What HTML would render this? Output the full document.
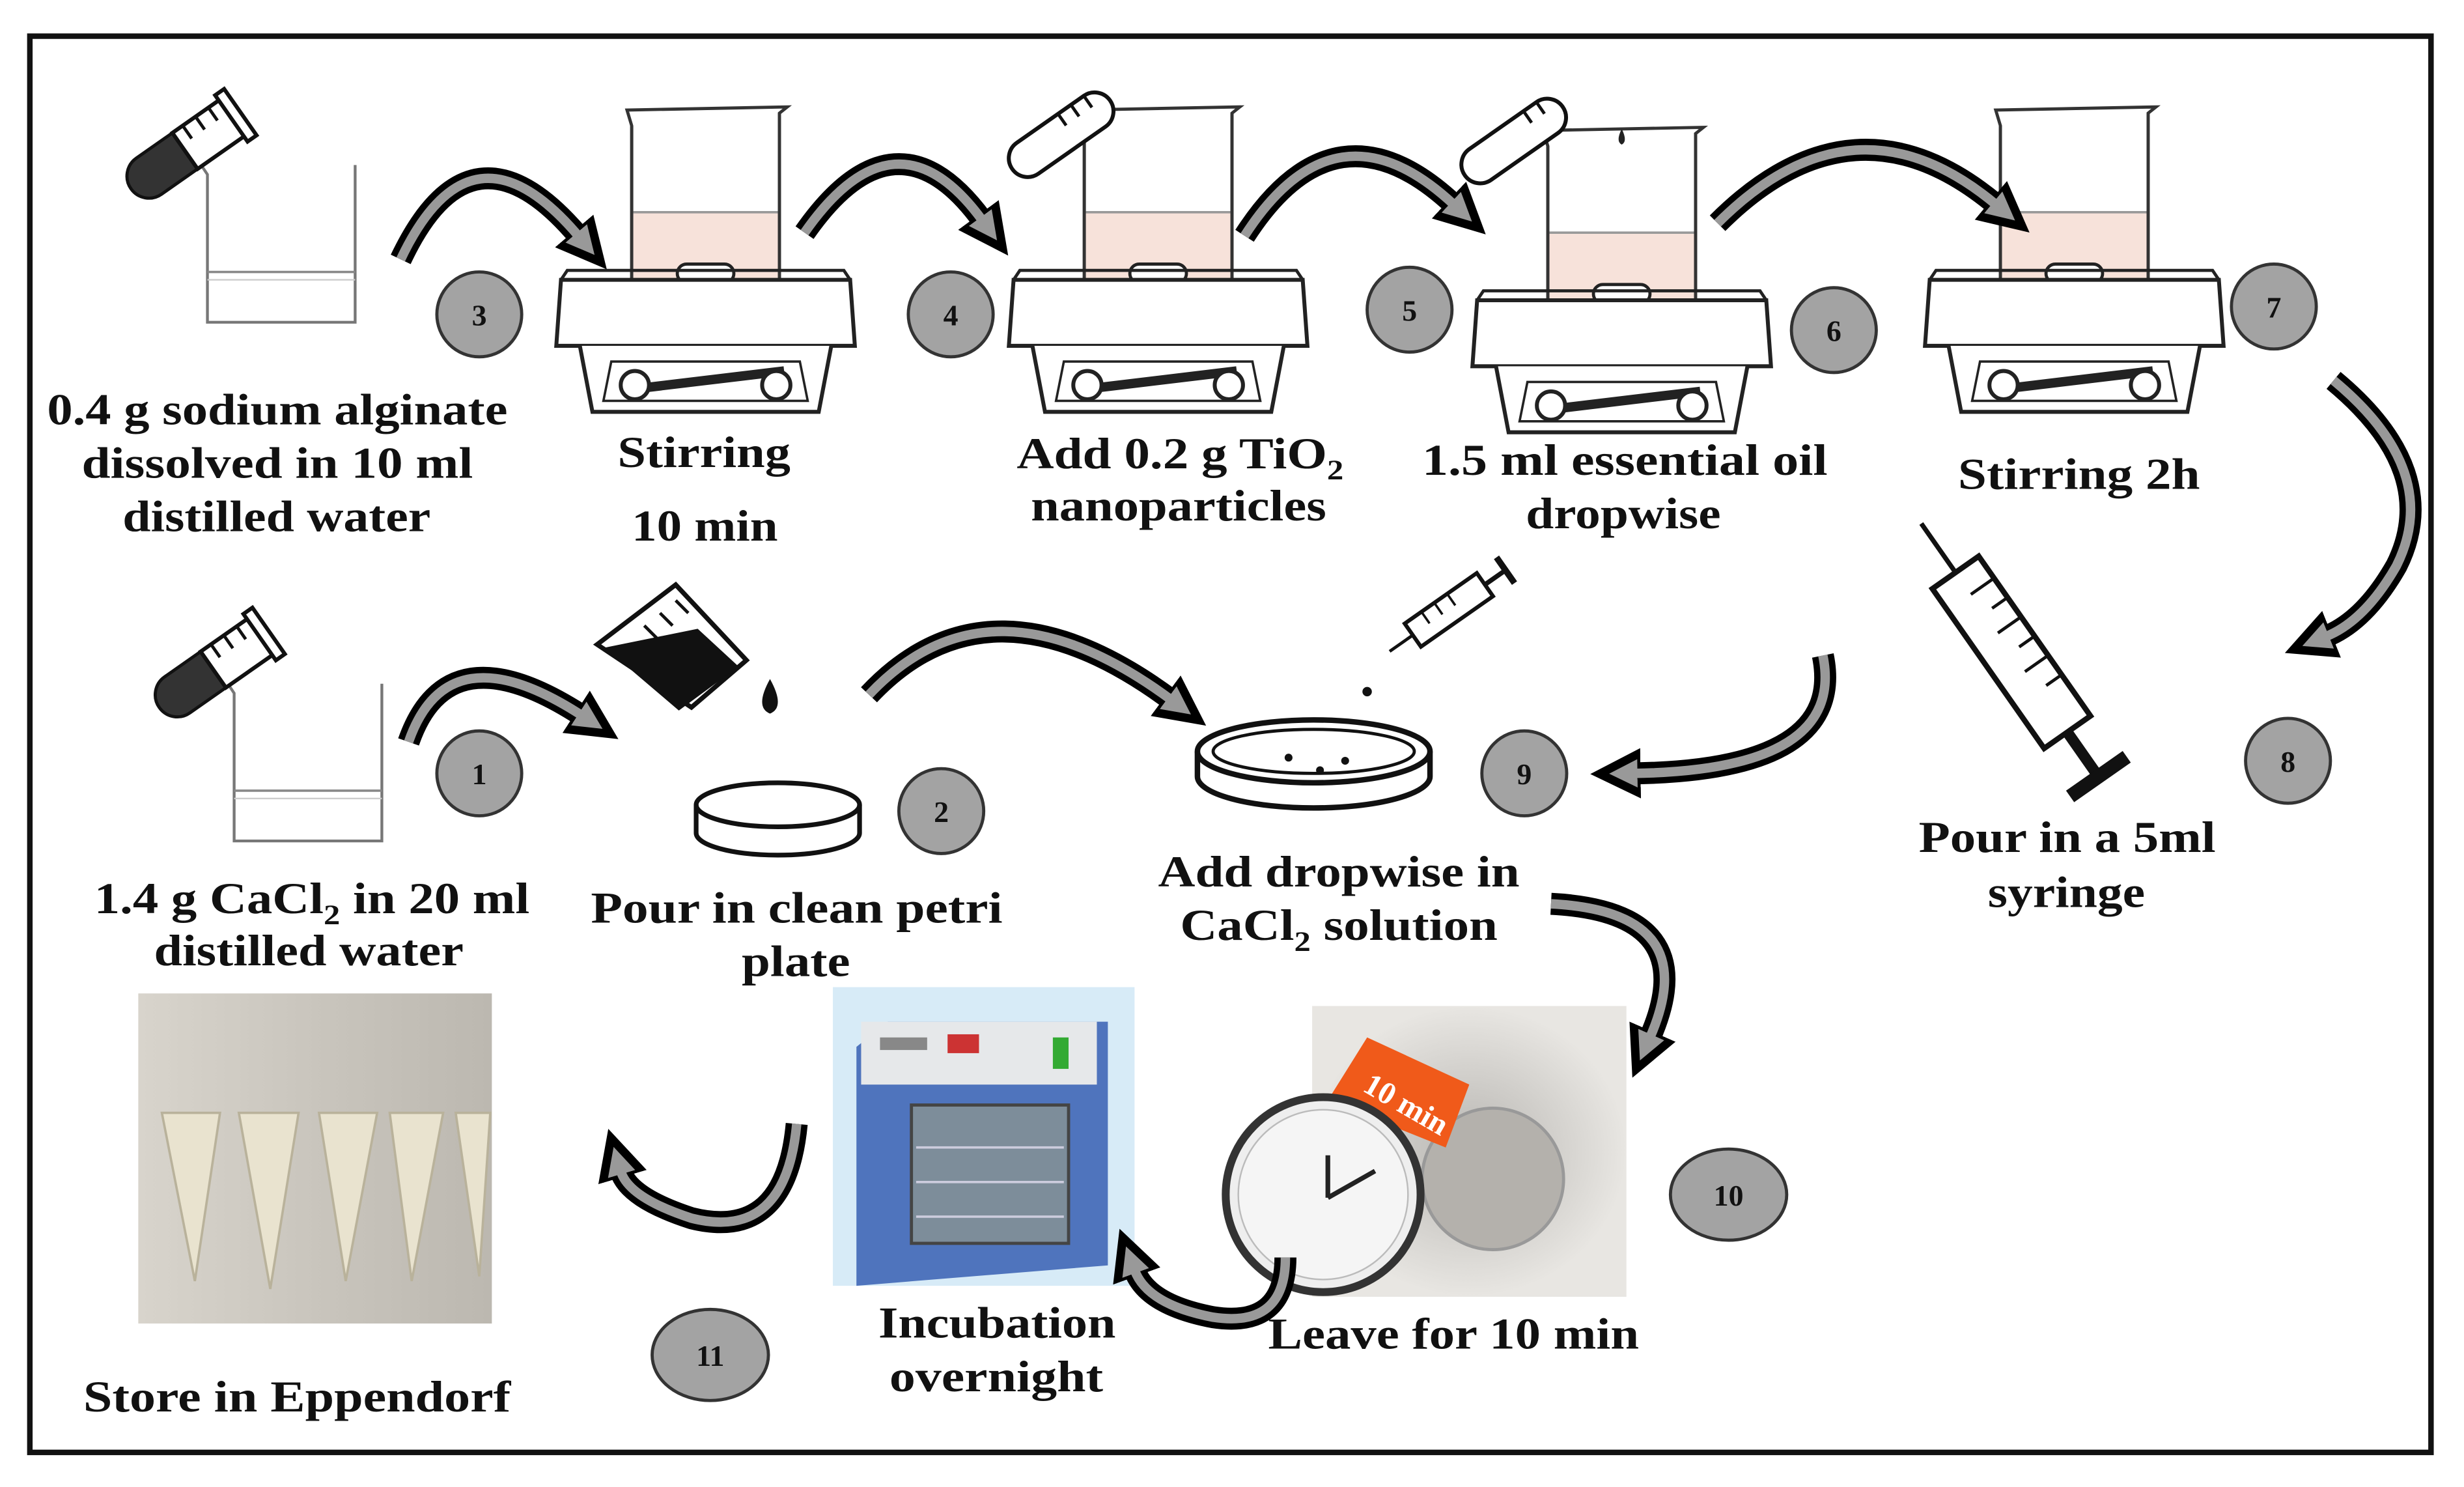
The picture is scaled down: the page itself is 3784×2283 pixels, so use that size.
<!DOCTYPE html>
<html><head><meta charset="utf-8"><style>
html,body{margin:0;padding:0;background:#fff;}
svg{display:block;}
text{font-family:"Liberation Serif",serif;font-weight:bold;fill:#111;}
</style></head><body>
<svg width="3784" height="2283" viewBox="0 0 1568 946" xmlns="http://www.w3.org/2000/svg">
<defs>
<marker id="hb" markerUnits="userSpaceOnUse" markerWidth="40" markerHeight="40" refX="4" refY="20" orient="auto">
<polygon points="0,4 32,20 0,36" fill="#000"/></marker>
<marker id="hg" markerUnits="userSpaceOnUse" markerWidth="40" markerHeight="40" refX="2" refY="20" orient="auto">
<polygon points="0,11 18,20 0,29" fill="#999"/></marker>
<linearGradient id="ep" x1="0" x2="1"><stop offset="0" stop-color="#d8d4cc"/><stop offset="0.5" stop-color="#c9c5bd"/><stop offset="1" stop-color="#bcb8b0"/></linearGradient>
<radialGradient id="bk"><stop offset="0" stop-color="#b8b6b2"/><stop offset="1" stop-color="#e8e6e2"/></radialGradient>
<g id="stir">
<path d="M-50,-120 L-47,-110 L-47,0 L47,0 L47,-118 L52,-122 Z" fill="#fff" stroke="#333" stroke-width="2"/>
<rect x="-46" y="-55" width="92" height="55" fill="#f7e2da"/>
<line x1="-46" y1="-55" x2="46" y2="-55" stroke="#999" stroke-width="1.5"/>
<rect x="-18" y="-22" width="36" height="12" rx="6" fill="#fff" stroke="#222" stroke-width="2"/>
<path d="M-47,-110 L-47,0 L47,0 L47,-118" fill="none" stroke="#333" stroke-width="2"/>
<path d="M-92,-12 L92,-12 L95,30 L-95,30 Z" fill="#fff" stroke="#222" stroke-width="2.5"/>
<path d="M-92,-12 L-88,-18 L88,-18 L92,-12" fill="none" stroke="#222" stroke-width="2"/>
<path d="M-80,30 L-72,72 L72,72 L80,30" fill="#fff" stroke="#222" stroke-width="2.5"/>
<path d="M-60,40 L60,40 L65,65 L-65,65 Z" fill="#fff" stroke="#222" stroke-width="1.5"/>
<line x1="-50" y1="58" x2="50" y2="46" stroke="#222" stroke-width="6"/>
<circle cx="-45" cy="55" r="9" fill="#fff" stroke="#222" stroke-width="2.5"/>
<circle cx="45" cy="55" r="9" fill="#fff" stroke="#222" stroke-width="2.5"/>
</g>
<g id="tube">
<rect x="-14" y="-45" width="28" height="80" rx="14" fill="#333" stroke="#111" stroke-width="2"/>
<rect x="-14" y="-45" width="28" height="38" fill="#fff" stroke="#111" stroke-width="2.5"/>
<rect x="-18" y="-50" width="36" height="7" fill="#fff" stroke="#111" stroke-width="2.5"/>
<line x1="-14" y1="-35" x2="-4" y2="-35" stroke="#111" stroke-width="2"/>
<line x1="-14" y1="-25" x2="-4" y2="-25" stroke="#111" stroke-width="2"/>
<line x1="-14" y1="-15" x2="-4" y2="-15" stroke="#111" stroke-width="2"/>
</g>
<g id="beaker">
<path d="M-50,-50 L-46,-44 L-46,50 L48,50 L48,-50" fill="none" stroke="#777" stroke-width="1.8"/>
<line x1="-46" y1="18" x2="48" y2="18" stroke="#888" stroke-width="1.5"/>
<line x1="-46" y1="23" x2="48" y2="23" stroke="#ccc" stroke-width="1"/>
</g>
</defs>

<rect x="19" y="23" width="1528" height="901" fill="#fff" stroke="#111" stroke-width="3.5"/>

<use href="#beaker" transform="translate(178,155)"/>
<use href="#tube" transform="translate(112,100) rotate(55)"/>
<use href="#stir" transform="translate(449,190)"/>
<use href="#stir" transform="translate(737,190)"/>
<use href="#stir" transform="translate(1032,203)"/>
<use href="#stir" transform="translate(1320,190)"/>
<g transform="translate(672,88) rotate(55)"><rect x="-12" y="-42" width="24" height="76" rx="12" fill="#fff" stroke="#111" stroke-width="2.5"/><line x1="-12" y1="-30" x2="-3" y2="-30" stroke="#111" stroke-width="2"/><line x1="-12" y1="-20" x2="-3" y2="-20" stroke="#111" stroke-width="2"/><line x1="-12" y1="-10" x2="-3" y2="-10" stroke="#111" stroke-width="2"/></g>
<g transform="translate(960,92) rotate(55)"><rect x="-12" y="-42" width="24" height="76" rx="12" fill="#fff" stroke="#111" stroke-width="2.5"/><line x1="-12" y1="-30" x2="-3" y2="-30" stroke="#111" stroke-width="2"/><line x1="-12" y1="-20" x2="-3" y2="-20" stroke="#111" stroke-width="2"/></g>
<path d="M1032,82 q-4,8 0,10 q4,-2 0,-10Z" fill="#222"/>

<use href="#beaker" transform="translate(195,485)"/>
<use href="#tube" transform="translate(130,430) rotate(55)"/>
<g><path d="M380,410 L430,372 L475,420 L440,450 Z" fill="#fff" stroke="#111" stroke-width="3"/>
<path d="M385,412 L432,452 L470,424 L444,400 Z" fill="#111"/>
<line x1="420" y1="390" x2="428" y2="398" stroke="#111" stroke-width="2"/><line x1="430" y1="382" x2="438" y2="390" stroke="#111" stroke-width="2"/><line x1="410" y1="398" x2="418" y2="406" stroke="#111" stroke-width="2"/>
<path d="M490,432 q-10,18 0,22 q10,-4 0,-22Z" fill="#111"/></g>
<g><ellipse cx="495" cy="512" rx="52" ry="14" fill="#fff" stroke="#111" stroke-width="3"/><path d="M443,512 L443,530 A52,14 0 0 0 547,530 L547,512" fill="none" stroke="#111" stroke-width="3"/></g>
<g><ellipse cx="836" cy="478" rx="74" ry="20" fill="#fff" stroke="#111" stroke-width="3.5"/><ellipse cx="836" cy="478" rx="64" ry="14" fill="none" stroke="#111" stroke-width="2"/><path d="M762,478 L762,494 A74,20 0 0 0 910,494 L910,478" fill="none" stroke="#111" stroke-width="3.5"/>
<circle cx="820" cy="482" r="2.5" fill="#111"/><circle cx="840" cy="490" r="2.5" fill="#111"/><circle cx="856" cy="484" r="2.5" fill="#111"/></g>
<g transform="translate(922,388) rotate(-35)"><rect x="-28" y="-9" width="56" height="18" fill="#fff" stroke="#111" stroke-width="2.5"/><line x1="28" y1="0" x2="44" y2="0" stroke="#111" stroke-width="3"/><line x1="44" y1="-10" x2="44" y2="10" stroke="#111" stroke-width="4"/><line x1="-28" y1="0" x2="-46" y2="0" stroke="#111" stroke-width="2"/><line x1="-15" y1="-9" x2="-15" y2="0" stroke="#111" stroke-width="1.5"/><line x1="-5" y1="-9" x2="-5" y2="0" stroke="#111" stroke-width="1.5"/><line x1="5" y1="-9" x2="5" y2="0" stroke="#111" stroke-width="1.5"/></g>
<circle cx="870" cy="440" r="3" fill="#111"/>
<g transform="translate(1280,415) rotate(55)"><rect x="-62" y="-18" width="124" height="36" fill="#fff" stroke="#111" stroke-width="3.5"/><line x1="62" y1="0" x2="95" y2="0" stroke="#111" stroke-width="7"/><rect x="92" y="-22" width="9" height="44" fill="#111"/><line x1="-62" y1="0" x2="-100" y2="0" stroke="#111" stroke-width="3"/>
<g stroke="#111" stroke-width="2"><line x1="-45" y1="-18" x2="-45" y2="0"/><line x1="-30" y1="-18" x2="-30" y2="-6"/><line x1="-15" y1="-18" x2="-15" y2="0"/><line x1="0" y1="-18" x2="0" y2="-6"/><line x1="15" y1="-18" x2="15" y2="0"/><line x1="30" y1="-18" x2="30" y2="-6"/></g></g>

<rect x="88" y="632" width="225" height="210" fill="url(#ep)"/>
<g fill="#e9e3cf" stroke="#b9b29b" stroke-width="1.5">
<path d="M103,708 L140,708 L124,815 Z"/><path d="M152,708 L190,708 L172,820 Z"/><path d="M203,708 L240,708 L220,815 Z"/><path d="M248,708 L282,708 L262,815 Z"/><path d="M290,708 L312,708 L305,812 Z"/></g>
<rect x="530" y="628" width="192" height="190" fill="#d7ebf7"/>
<path d="M545,666 L565,650 L705,650 L705,805 L545,818 Z" fill="#4f74bd"/>
<rect x="548" y="650" width="150" height="40" fill="#e6e8ea"/>
<rect x="560" y="660" width="30" height="8" fill="#888"/><rect x="603" y="658" width="20" height="12" fill="#c33"/><rect x="670" y="660" width="10" height="20" fill="#3a3"/>
<rect x="580" y="703" width="100" height="88" fill="#7d8d9a" stroke="#444" stroke-width="2"/>
<g stroke="#ccd" stroke-width="1.5"><line x1="583" y1="730" x2="677" y2="730"/><line x1="583" y1="752" x2="677" y2="752"/><line x1="583" y1="774" x2="677" y2="774"/></g>
<rect x="835" y="640" width="200" height="185" fill="url(#bk)"/>
<circle cx="950" cy="750" r="45" fill="#b4b1ac" stroke="#999" stroke-width="2"/>
<path d="M845,700 L870,660 L935,690 L920,730 Z" fill="#f05a1a"/>
<text x="870" y="700" font-size="20" style="fill:#fff" transform="rotate(30 880 690)">10 min</text>
<circle cx="842" cy="760" r="62" fill="#eee" stroke="#333" stroke-width="5"/>
<circle cx="842" cy="760" r="54" fill="#f5f5f5" stroke="#bbb" stroke-width="1"/>
<path d="M845,762 L845,735 M845,762 L875,745" stroke="#222" stroke-width="3" fill="none"/>

<g fill="none" stroke-linecap="butt">
<g stroke="#000" stroke-width="14" marker-end="url(#hb)">
<path d="M255,165 Q300,70 368,150"/>
<path d="M512,148 Q570,65 625,140"/>
<path d="M792,150 Q850,60 925,130"/>
<path d="M1093,142 Q1180,55 1270,130"/>
<path d="M1485,242 Q1555,300 1525,360 Q1505,395 1480,405"/>
<path d="M1160,417 Q1175,490 1040,492"/>
<path d="M260,472 Q285,400 370,455"/>
<path d="M553,442 Q630,360 745,445"/>
<path d="M987,575 Q1085,580 1050,660"/>
<path d="M818,800 Q818,845 772,838 Q730,830 722,808"/>
<path d="M507,715 Q500,790 440,775 Q400,762 395,745"/>
</g>
<g stroke="#999" stroke-width="6" marker-end="url(#hg)">
<path d="M255,165 Q300,70 368,150"/>
<path d="M512,148 Q570,65 625,140"/>
<path d="M792,150 Q850,60 925,130"/>
<path d="M1093,142 Q1180,55 1270,130"/>
<path d="M1485,242 Q1555,300 1525,360 Q1505,395 1480,405"/>
<path d="M1160,417 Q1175,490 1040,492"/>
<path d="M260,472 Q285,400 370,455"/>
<path d="M553,442 Q630,360 745,445"/>
<path d="M987,575 Q1085,580 1050,660"/>
<path d="M818,800 Q818,845 772,838 Q730,830 722,808"/>
<path d="M507,715 Q500,790 440,775 Q400,762 395,745"/>
</g></g>

<g fill="#a3a3a3" stroke="#333" stroke-width="2">
<circle cx="305" cy="200" r="27"/><circle cx="605" cy="200" r="27"/><circle cx="897" cy="197" r="27"/><circle cx="1167" cy="210" r="27"/><circle cx="1447" cy="195" r="27"/>
<circle cx="305" cy="492" r="27"/><circle cx="599" cy="516" r="27"/><circle cx="970" cy="492" r="27"/><circle cx="1456" cy="484" r="27"/>
<ellipse cx="1100" cy="760" rx="37" ry="29"/><ellipse cx="452" cy="862" rx="37" ry="29"/></g>
<g font-size="19" text-anchor="middle">
<text x="305" y="207">3</text><text x="605" y="207">4</text><text x="897" y="204">5</text><text x="1167" y="217">6</text><text x="1447" y="202">7</text>
<text x="305" y="499">1</text><text x="599" y="523">2</text><text x="970" y="499">9</text><text x="1456" y="491">8</text>
<text x="1100" y="767">10</text><text x="452" y="869">11</text></g>

<g font-size="28" lengthAdjust="spacingAndGlyphs">
<text x="30" y="270" textLength="293" lengthAdjust="spacingAndGlyphs">0.4 g sodium alginate</text>
<text x="52" y="304" textLength="249" lengthAdjust="spacingAndGlyphs">dissolved in 10 ml</text>
<text x="78" y="338" textLength="196" lengthAdjust="spacingAndGlyphs">distilled water</text>
<text x="393" y="297" textLength="110" lengthAdjust="spacingAndGlyphs">Stirring</text>
<text x="402" y="344" textLength="93" lengthAdjust="spacingAndGlyphs">10 min</text>
<text x="647" y="298" textLength="208" lengthAdjust="spacingAndGlyphs">Add 0.2 g TiO<tspan font-size="18" dy="7">2</tspan></text>
<text x="656" y="331" textLength="188" lengthAdjust="spacingAndGlyphs">nanoparticles</text>
<text x="905" y="302" textLength="258" lengthAdjust="spacingAndGlyphs">1.5 ml essential oil</text>
<text x="971" y="336" textLength="124" lengthAdjust="spacingAndGlyphs">dropwise</text>
<text x="1246" y="311" textLength="154" lengthAdjust="spacingAndGlyphs">Stirring 2h</text>
<text x="1221" y="542" textLength="189" lengthAdjust="spacingAndGlyphs">Pour in a 5ml</text>
<text x="1265" y="577" textLength="100" lengthAdjust="spacingAndGlyphs">syringe</text>
<text x="60" y="581" textLength="277" lengthAdjust="spacingAndGlyphs">1.4 g CaCl<tspan font-size="18" dy="7">2</tspan><tspan dy="-7"> in 20 ml</tspan></text>
<text x="98" y="614" textLength="197" lengthAdjust="spacingAndGlyphs">distilled water</text>
<text x="376" y="587" textLength="262" lengthAdjust="spacingAndGlyphs">Pour in clean petri</text>
<text x="472" y="621" textLength="69" lengthAdjust="spacingAndGlyphs">plate</text>
<text x="737" y="564" textLength="230" lengthAdjust="spacingAndGlyphs">Add dropwise in</text>
<text x="751" y="598" textLength="202" lengthAdjust="spacingAndGlyphs">CaCl<tspan font-size="18" dy="7">2</tspan><tspan dy="-7"> solution</tspan></text>
<text x="559" y="851" textLength="151" lengthAdjust="spacingAndGlyphs">Incubation</text>
<text x="566" y="885" textLength="136" lengthAdjust="spacingAndGlyphs">overnight</text>
<text x="807" y="858" textLength="236" lengthAdjust="spacingAndGlyphs">Leave for 10 min</text>
<text x="53" y="898" textLength="272" lengthAdjust="spacingAndGlyphs">Store in Eppendorf</text>
</g>
</svg>
</body></html>
